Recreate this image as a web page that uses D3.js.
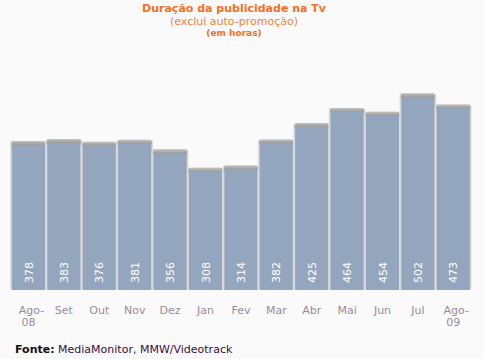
<!DOCTYPE html>
<html><head><meta charset="utf-8">
<script src="https://cdn.jsdelivr.net/npm/d3@7"></script>
<style>body{margin:0;background:#fafafa;}svg{display:block;}</style>
</head><body>
<script>
const categories = ["Ago-08","Set","Out","Nov","Dez","Jan","Fev","Mar","Abr","Mai","Jun","Jul","Ago-09"];
const values = [378,383,376,381,356,308,314,382,425,464,454,502,473];
const titleLines = ["Duração da publicidade na Tv","(exclui auto-promoção)","(em horas)"];
const sourceLabel = "Fonte:";
const sourceText = " MediaMonitor, MMW/Videotrack";

const W = 484, H = 359;
const svg = d3.select("body").append("svg").attr("width", W).attr("height", H);
svg.append("rect").attr("width", W).attr("height", H).attr("fill", "#fafafa");

const x = d3.scaleBand().domain(categories).range([10.8, 471]).paddingInner(0.068).paddingOuter(0.034);
const y = d3.scaleLinear().domain([0, 520]).range([290, 290 - 520 * 0.3838]);

const defs = svg.append("defs");
const g1 = defs.append("linearGradient").attr("id","topg").attr("x1",0).attr("y1",0).attr("x2",0).attr("y2",1);
g1.append("stop").attr("offset","0%").attr("stop-color","#c4c4c4");
g1.append("stop").attr("offset","50%").attr("stop-color","#a2a2a2");
g1.append("stop").attr("offset","100%").attr("stop-color","#9a9a9a");
const g2 = defs.append("linearGradient").attr("id","sideg").attr("x1",0).attr("y1",0).attr("x2",1).attr("y2",0);
g2.append("stop").attr("offset","0%").attr("stop-color","#e6e6e6");
g2.append("stop").attr("offset","4%").attr("stop-color","#cfcfcf");
g2.append("stop").attr("offset","96%").attr("stop-color","#cfcfcf");
g2.append("stop").attr("offset","100%").attr("stop-color","#e6e6e6");

const bars = svg.append("g").selectAll("g").data(categories).join("g");
bars.append("rect")
  .attr("x", d => x(d) - 2).attr("width", x.bandwidth() + 4)
  .attr("y", (d,i) => y(values[i]) - 4).attr("height", (d,i) => y(0) - y(values[i]) + 4)
  .attr("rx", 3).attr("fill", "url(#sideg)");
bars.append("rect")
  .attr("x", d => x(d) - 0.5).attr("width", x.bandwidth() + 1)
  .attr("y", (d,i) => y(values[i]) - 4).attr("height", 6)
  .attr("rx", 2.5).attr("fill", "url(#topg)");
bars.append("rect")
  .attr("x", d => x(d)).attr("width", x.bandwidth())
  .attr("y", (d,i) => y(values[i])).attr("height", (d,i) => y(0) - y(values[i]))
  .attr("fill", "#94a6bd");
bars.append("text")
  .attr("transform", d => `translate(${x(d) + x.bandwidth()/2 + 4},${y(0) - 7}) rotate(-90)`)
  .attr("font-family", "DejaVu Sans, Verdana, sans-serif").attr("font-size", 11)
  .attr("fill", "#ffffff").attr("text-anchor", "start")
  .text((d,i) => values[i]);

const xa = svg.append("g").attr("transform", "translate(0,290)")
  .call(d3.axisBottom(x).tickSize(0).tickPadding(0).tickFormat(""));
xa.select(".domain").remove();
xa.selectAll(".tick").each(function(d) {
  const t = d3.select(this).append("text")
    .attr("font-family", "DejaVu Sans, Verdana, sans-serif").attr("font-size", 11)
    .attr("fill", "#9a8a9a").attr("text-anchor", "middle").attr("y", 24);
  const parts = d.includes("-") ? [d.split("-")[0] + "-", d.split("-")[1]] : [d];
  parts.forEach((p, i) => t.append("tspan").attr("x", i === 1 ? 0 : (parts.length > 1 ? 3 : 0)).attr("dy", i === 0 ? 0 : 12).text(p));
});

const title = svg.append("g").attr("font-family", "DejaVu Sans, Verdana, sans-serif").attr("text-anchor", "middle");
title.append("text").attr("x", 234).attr("y", 12).attr("font-size", 11).attr("font-weight", "bold").attr("fill", "#f5701e").text(titleLines[0]);
title.append("text").attr("x", 234).attr("y", 25).attr("font-size", 11).attr("fill", "#f5813a").text(titleLines[1]);
title.append("text").attr("x", 234).attr("y", 36).attr("font-size", 9).attr("font-weight", "bold").attr("fill", "#f5701e").text(titleLines[2]);

const src = svg.append("text").attr("x", 15).attr("y", 353)
  .attr("font-family", "DejaVu Sans, Verdana, sans-serif").attr("font-size", 11);
src.append("tspan").attr("font-weight", "bold").attr("fill", "#111").text(sourceLabel);
src.append("tspan").attr("fill", "#3d0a3d").text(sourceText);
</script>
</body></html>
